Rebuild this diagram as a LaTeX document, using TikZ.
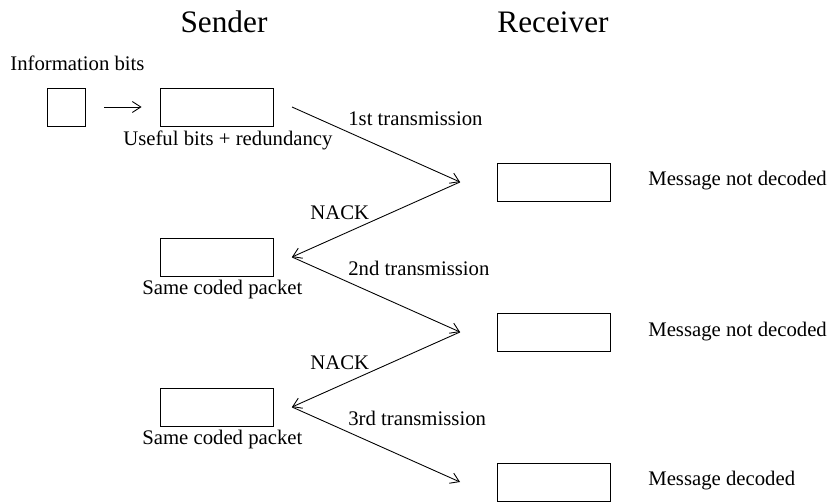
\documentclass[tikz,border=0pt]{standalone}
\usepackage{fontspec}
\setmainfont{Liberation Serif}
\usetikzlibrary{arrows.meta}

\begin{document}
\begin{tikzpicture}[x=0.02cm, y=-0.02cm,
        paquet/.style={draw, line width=0.5pt, inner sep=0pt, minimum width=2.26cm, minimum height=0.76cm},
        bits/.style={draw, line width=0.5pt, inner sep=0pt, minimum width=0.76cm, minimum height=0.76cm},
        titre/.style={anchor=base, inner sep=0pt, font=\fontsize{17.8}{20}\selectfont},
        eticheta/.style={anchor=base west, inner sep=0pt, font=\fontsize{11.8}{14}\selectfont},
        sageata/.style={line width=0.5pt, -{Straight Barb[length=1.7mm, width=2.2mm]}}]
        \useasboundingbox (0,0) rectangle (834,503);

        \node [titre] (sender) at (224,33) {Sender};
        \node [titre] (receiver) at (553,33) {Receiver};

        \node [eticheta] (infotext) at (10,71) {Information bits};
        \node [bits] (info) at (66,107) {};
        \node [paquet] (coded) at (216.5,107) {};
        \node [eticheta] (codedtext) at (123,146) {Useful bits + redundancy};
        \draw [sageata, shorten <=0.38cm, shorten >=0.36cm] (info) -- (coded);

        \node [paquet] (retx1) at (216.5,257) {};
        \node [eticheta] (retx1text) at (142,294) {Same coded packet};
        \node [paquet] (retx2) at (216.5,407) {};
        \node [eticheta] (retx2text) at (142,444) {Same coded packet};

        \node [paquet] (rx1) at (553.5,182) {};
        \node [eticheta] (rx1text) at (648,186) {Message not decoded};
        \node [paquet] (rx2) at (553.5,332) {};
        \node [eticheta] (rx2text) at (648,336) {Message not decoded};
        \node [paquet] (rx3) at (553.5,482) {};
        \node [eticheta] (rx3text) at (648,485) {Message decoded};

        \coordinate (s1) at (292,107);
        \coordinate (r1) at (460,182);
        \coordinate (s2) at (292,257);
        \coordinate (r2) at (460,332);
        \coordinate (s3) at (292,407);
        \coordinate (r3) at (460,482);

        \draw [sageata] (s1) -- (r1);
        \draw [sageata] (r1) -- (s2);
        \draw [sageata] (s2) -- (r2);
        \draw [sageata] (r2) -- (s3);
        \draw [sageata] (s3) -- (r3);

        \node [eticheta] (tx1) at (348,126) {1st transmission};
        \node [eticheta] (nack1) at (310,219) {NACK};
        \node [eticheta] (tx2) at (348,275) {2nd transmission};
        \node [eticheta] (nack2) at (310,369) {NACK};
        \node [eticheta] (tx3) at (348,425) {3rd transmission};
    \end{tikzpicture}
\end{document}
